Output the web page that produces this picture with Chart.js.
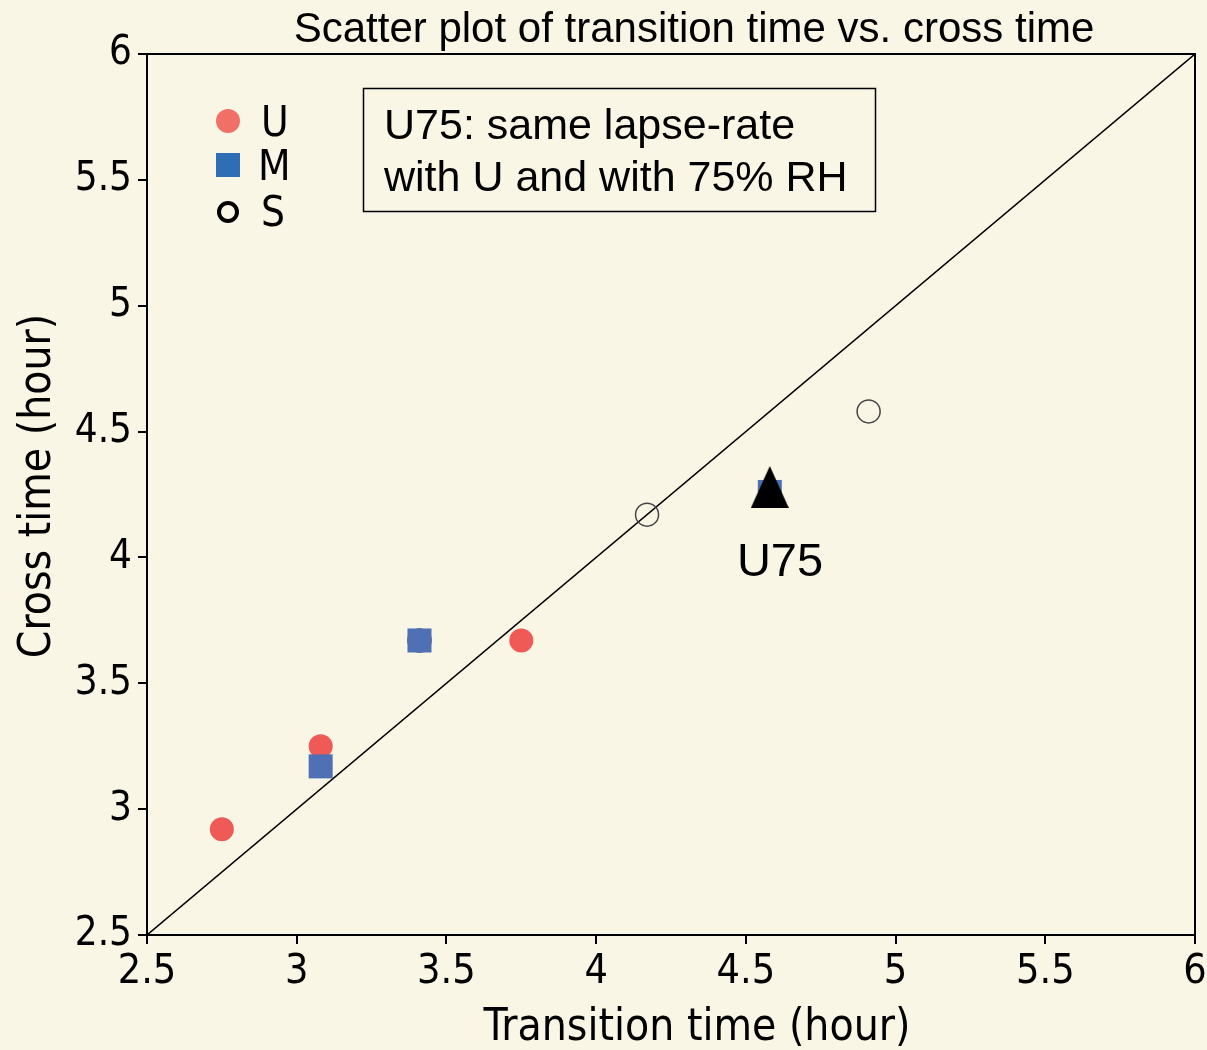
<!DOCTYPE html>
<html lang="en">
<head>
  <meta charset="UTF-8" />
  <title>Scatter plot of transition time vs. cross time</title>
  <script src="https://cdn.jsdelivr.net/npm/chart.js"></script>
  <style>
    body { margin: 0; background: #faf6e6; }
    #wrap { width: 1207px; height: 1050px; }
  </style>
</head>
<body>
<div id="wrap"><canvas id="scatter" width="1207" height="1050"></canvas></div>
<script>
  // data (hours)
  const uPoints = [[2.75, 2.92], [3.08, 3.25], [3.75, 3.67]];
  const mPoints = [[3.08, 3.17], [3.41, 3.67], [4.58, 4.26]];
  const sPoints = [[3.41, 3.67], [4.17, 4.17], [4.91, 4.58]];
  const u75Point = [[4.58, 4.28]];
  const diagonal = [[2.5, 2.5], [6, 6]];
  const tickValues = [2.5, 3, 3.5, 4, 4.5, 5, 5.5, 6];

  const narrow = "'Liberation Sans Narrow', 'DejaVu Sans Condensed', 'Liberation Sans', sans-serif";
  const toXY = arr => arr.map(p => ({ x: p[0], y: p[1] }));

  // tall black triangle used as point style for U75
  const tri = document.createElement('canvas');
  tri.width = 38; tri.height = 42;
  const tctx = tri.getContext('2d');
  tctx.fillStyle = '#000';
  tctx.beginPath();
  tctx.moveTo(19, 0); tctx.lineTo(38, 42); tctx.lineTo(0, 42);
  tctx.closePath(); tctx.fill();

  const extras = {
    id: 'extras',
    beforeDraw(chart) {
      const c = chart.ctx;
      c.save();
      c.fillStyle = '#faf6e6';
      c.fillRect(0, 0, chart.width, chart.height);
      c.restore();
    },
    afterDraw(chart) {
      const c = chart.ctx;
      const a = chart.chartArea;
      c.save();
      // frame
      c.strokeStyle = '#000';
      c.lineWidth = 2;
      c.strokeRect(a.left, a.top, a.right - a.left, a.bottom - a.top);

      // title
      c.fillStyle = '#000';
      c.font = "42px 'Liberation Sans', Arial, sans-serif";
      c.textAlign = 'center';
      c.textBaseline = 'alphabetic';
      c.fillText('Scatter plot of transition time vs. cross time', 694, 42);

      // axis titles
      c.font = "44px " + narrow;
      c.fillText('Transition time (hour)', 697, 1040);
      c.save();
      c.translate(50, 486);
      c.rotate(-Math.PI / 2);
      c.fillText('Cross time (hour)', 0, 0);
      c.restore();

      // legend
      c.fillStyle = '#f07068';
      c.beginPath(); c.arc(228, 121, 12, 0, Math.PI * 2); c.fill();
      c.fillStyle = '#2f6db5';
      c.fillRect(216, 153, 24, 24);
      c.strokeStyle = '#000';
      c.lineWidth = 4;
      c.beginPath(); c.arc(228, 212, 9, 0, Math.PI * 2); c.stroke();
      c.fillStyle = '#000';
      c.font = "42px " + narrow;
      c.textAlign = 'left';
      c.fillText('U', 261, 136);
      c.fillText('M', 258, 180);
      c.fillText('S', 261, 226);

      // annotation box
      c.lineWidth = 1.5;
      c.strokeRect(363.5, 88.5, 512, 123);
      c.font = "43px 'Liberation Sans', Arial, sans-serif";
      c.fillText('U75: same lapse-rate', 384, 139);
      c.fillText('with U and with 75% RH', 384, 191);

      // U75 label
      c.font = "47px 'Liberation Sans', Arial, sans-serif";
      c.textAlign = 'center';
      c.fillText('U75', 780, 576);
      c.restore();
    }
  };

  new Chart(document.getElementById('scatter'), {
    type: 'scatter',
    data: {
      datasets: [
        {
          type: 'line',
          label: '1:1',
          data: toXY(diagonal),
          borderColor: '#000',
          borderWidth: 1.5,
          pointRadius: 0,
          order: 5
        },
        {
          label: 'S',
          data: toXY(sPoints),
          pointStyle: 'circle',
          pointRadius: 11.5,
          backgroundColor: 'rgba(0,0,0,0)',
          borderColor: '#444',
          borderWidth: 1.5,
          order: 4
        },
        {
          label: 'U',
          data: toXY(uPoints),
          pointStyle: 'circle',
          pointRadius: 12,
          backgroundColor: '#f05a56',
          borderWidth: 0,
          order: 3
        },
        {
          label: 'M',
          data: toXY(mPoints),
          pointStyle: 'rect',
          pointRadius: 17,
          backgroundColor: '#5070b5',
          borderWidth: 0,
          order: 2
        },
        {
          label: 'U75',
          data: toXY(u75Point),
          pointStyle: tri,
          pointRadius: 20,
          order: 1
        }
      ]
    },
    options: {
      responsive: false,
      animation: false,
      layout: { autoPadding: false, padding: { top: 54, right: 12, left: 0, bottom: 0 } },
      plugins: {
        legend: { display: false },
        tooltip: { enabled: false }
      },
      scales: {
        x: {
          type: 'linear',
          min: 2.5, max: 6,
          afterBuildTicks: s => { s.ticks = tickValues.map(v => ({ value: v })); },
          afterFit: s => { s.height = 115; s.paddingLeft = 0; s.paddingRight = 0; },
          grid: { drawOnChartArea: false, drawTicks: true, tickLength: 9, color: '#000', lineWidth: 2 },
          border: { display: true, color: '#000', width: 2 },
          ticks: { color: '#000', padding: 4, font: { family: narrow, size: 41 }, callback: v => String(v) },
          title: { display: false }
        },
        y: {
          type: 'linear',
          min: 2.5, max: 6,
          afterBuildTicks: s => { s.ticks = tickValues.map(v => ({ value: v })); },
          afterFit: s => { s.width = 147; s.paddingTop = 0; s.paddingBottom = 0; },
          grid: { drawOnChartArea: false, drawTicks: true, tickLength: 9, color: '#000', lineWidth: 2 },
          border: { display: true, color: '#000', width: 2 },
          ticks: { color: '#000', padding: 6, font: { family: narrow, size: 40 }, callback: v => String(v) },
          title: { display: false }
        }
      }
    },
    plugins: [extras]
  });
</script>
</body>
</html>
